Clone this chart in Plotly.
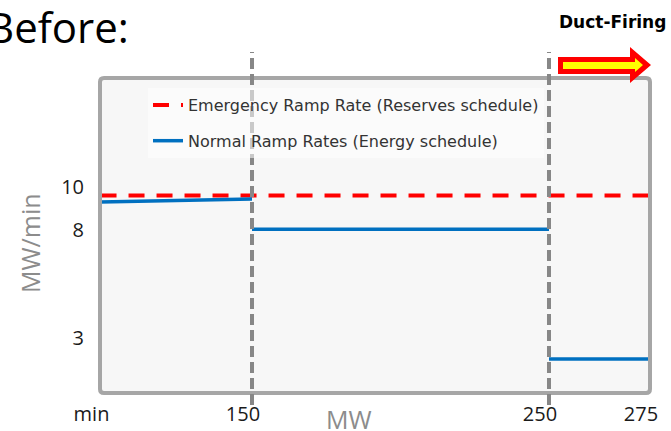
import plotly.graph_objects as go

# ---------------- data ----------------
X_TICK_VALS = [99, 150, 250, 284]
X_TICK_TEXT = ["min", "150", "250", "275"]
Y_TICK_VALS = [10, 8, 3]
Y_TICK_TEXT = ["10", "8", "3"]

EMERGENCY_X = [99, 284]
EMERGENCY_Y = [9.6, 9.6]

NORMAL_SEG1_X = [99, 150]
NORMAL_SEG1_Y = [9.3, 9.44]
NORMAL_SEG2_X = [150, 250]
NORMAL_SEG2_Y = [8.03, 8.03]
NORMAL_SEG3_X = [250, 284]
NORMAL_SEG3_Y = [2.0, 2.0]

BREAKPOINTS = [150, 250]

X_RANGE = [98.82, 284.01]
Y_RANGE = [0.42, 15.07]

# ---------------- geometry helpers ----------------
W, H = 671, 431
ML, MR, MT, MB = 100, 21, 78, 38
PW, PH = W - ML - MR, H - MT - MB


def px(x):
    return (x - ML) / PW


def py(y):
    return (H - MB - y) / PH


def poly_path(points):
    pts = [f"{px(x):.5f},{py(y):.5f}" for x, y in points]
    return "M" + " L".join(pts) + " Z"


BLUE = "#0070c0"
RED = "#ff0000"
GRID_GRAY = "#a6a6a6"
DASH_GRAY = "#878787"

fig = go.Figure()

fig.add_trace(go.Scatter(
    x=EMERGENCY_X, y=EMERGENCY_Y, mode="lines",
    name="Emergency Ramp Rate (Reserves schedule)",
    line=dict(color=RED, width=4, dash="16px,12px"),
    legendgroup="a",
))
fig.add_trace(go.Scatter(
    x=NORMAL_SEG1_X, y=NORMAL_SEG1_Y, mode="lines",
    name="Normal Ramp Rates (Energy schedule)",
    line=dict(color=BLUE, width=3.5), legendgroup="b",
))
fig.add_trace(go.Scatter(
    x=NORMAL_SEG2_X, y=NORMAL_SEG2_Y, mode="lines",
    name="Normal Ramp Rates (Energy schedule)",
    line=dict(color=BLUE, width=3.5), legendgroup="b", showlegend=False,
))
fig.add_trace(go.Scatter(
    x=NORMAL_SEG3_X, y=NORMAL_SEG3_Y, mode="lines",
    name="Normal Ramp Rates (Energy schedule)",
    line=dict(color=BLUE, width=3.5), legendgroup="b", showlegend=False,
))

shapes = []
# frame with slightly rounded corners
r = 4
x0, x1, y0, y1 = ML, W - MR, MT, H - MB
frame = (
    f"M{px(x0 + r):.5f},{py(y0):.5f} L{px(x1 - r):.5f},{py(y0):.5f} "
    f"Q{px(x1):.5f},{py(y0):.5f} {px(x1):.5f},{py(y0 + r):.5f} "
    f"L{px(x1):.5f},{py(y1 - r):.5f} "
    f"Q{px(x1):.5f},{py(y1):.5f} {px(x1 - r):.5f},{py(y1):.5f} "
    f"L{px(x0 + r):.5f},{py(y1):.5f} "
    f"Q{px(x0):.5f},{py(y1):.5f} {px(x0):.5f},{py(y1 - r):.5f} "
    f"L{px(x0):.5f},{py(y0 + r):.5f} "
    f"Q{px(x0):.5f},{py(y0):.5f} {px(x0 + r):.5f},{py(y0):.5f} Z"
)
shapes.append(dict(type="path", xref="paper", yref="paper", path=frame,
                   line=dict(color=GRID_GRAY, width=4), layer="above"))
for b in BREAKPOINTS:
    shapes.append(dict(type="line", xref="x", yref="paper", x0=b, x1=b,
                       y0=py(405), y1=py(52),
                       line=dict(color=DASH_GRAY, width=4, dash="11px,5px"),
                       layer="above"))
# Duct-firing arrow
outer = [(558, 57), (630, 57), (630, 47), (651, 65), (630, 83), (630, 74), (558, 74)]
inner = [(563, 62), (635, 62), (635, 58), (643, 65), (635, 72), (635, 69), (563, 69)]
shapes.append(dict(type="path", xref="paper", yref="paper", path=poly_path(outer),
                   fillcolor=RED, line=dict(width=0), layer="above"))
shapes.append(dict(type="path", xref="paper", yref="paper", path=poly_path(inner),
                   fillcolor="#ffff00", line=dict(width=0), layer="above"))

annotations = [
    dict(text="Before:", xref="paper", yref="paper", x=px(131), y=py(27),
         xanchor="right", yanchor="middle", showarrow=False,
         font=dict(family="Open Sans", size=42, color="#000000")),
    dict(text="<b>Duct-Firing</b>", xref="paper", yref="paper", x=px(668), y=py(22),
         xanchor="right", yanchor="middle", showarrow=False,
         font=dict(family="DejaVu Sans", size=17, color="#000000")),
    dict(text="MW", xref="paper", yref="paper", x=px(349), y=py(419),
         xanchor="center", yanchor="middle", showarrow=False,
         font=dict(family="Open Sans", size=25, color="#8c8c8c")),
    dict(text="MW/min", xref="paper", yref="paper", x=px(30), y=py(243),
         xanchor="center", yanchor="middle", showarrow=False, textangle=-90,
         font=dict(family="Open Sans", size=25, color="#8c8c8c")),
]

fig.update_layout(
    width=W, height=H,
    margin=dict(l=ML, r=MR, t=MT, b=MB, autoexpand=False),
    paper_bgcolor="#ffffff",
    plot_bgcolor="#f7f7f7",
    shapes=shapes,
    annotations=annotations,
    showlegend=True,
    legend=dict(
        x=px(148), y=py(88), xanchor="left", yanchor="top",
        bgcolor="rgba(255,255,255,0.55)", borderwidth=0,
        font=dict(family="DejaVu Sans", size=16, color="#333333"),
        tracegroupgap=12, itemwidth=30,
    ),
    xaxis=dict(
        range=X_RANGE, tickmode="array", tickvals=X_TICK_VALS, ticktext=X_TICK_TEXT,
        showgrid=False, zeroline=False, showline=False, ticks="",
        ticklabelshift=-9, ticklabelstandoff=7, automargin=False,
        tickfont=dict(family="Open Sans", size=20, color="#1a1a1a"),
        fixedrange=True,
    ),
    yaxis=dict(
        range=Y_RANGE, tickmode="array", tickvals=Y_TICK_VALS, ticktext=Y_TICK_TEXT,
        showgrid=False, zeroline=False, showline=False, ticks="",
        ticklabelstandoff=15, automargin=False,
        tickfont=dict(family="Open Sans", size=20, color="#1a1a1a"),
        fixedrange=True,
    ),
)

fig.write_html(
    "out.html",
    config={"displayModeBar": False},
    post_script="document.body.style.margin='0';document.body.style.padding='0';",
)
